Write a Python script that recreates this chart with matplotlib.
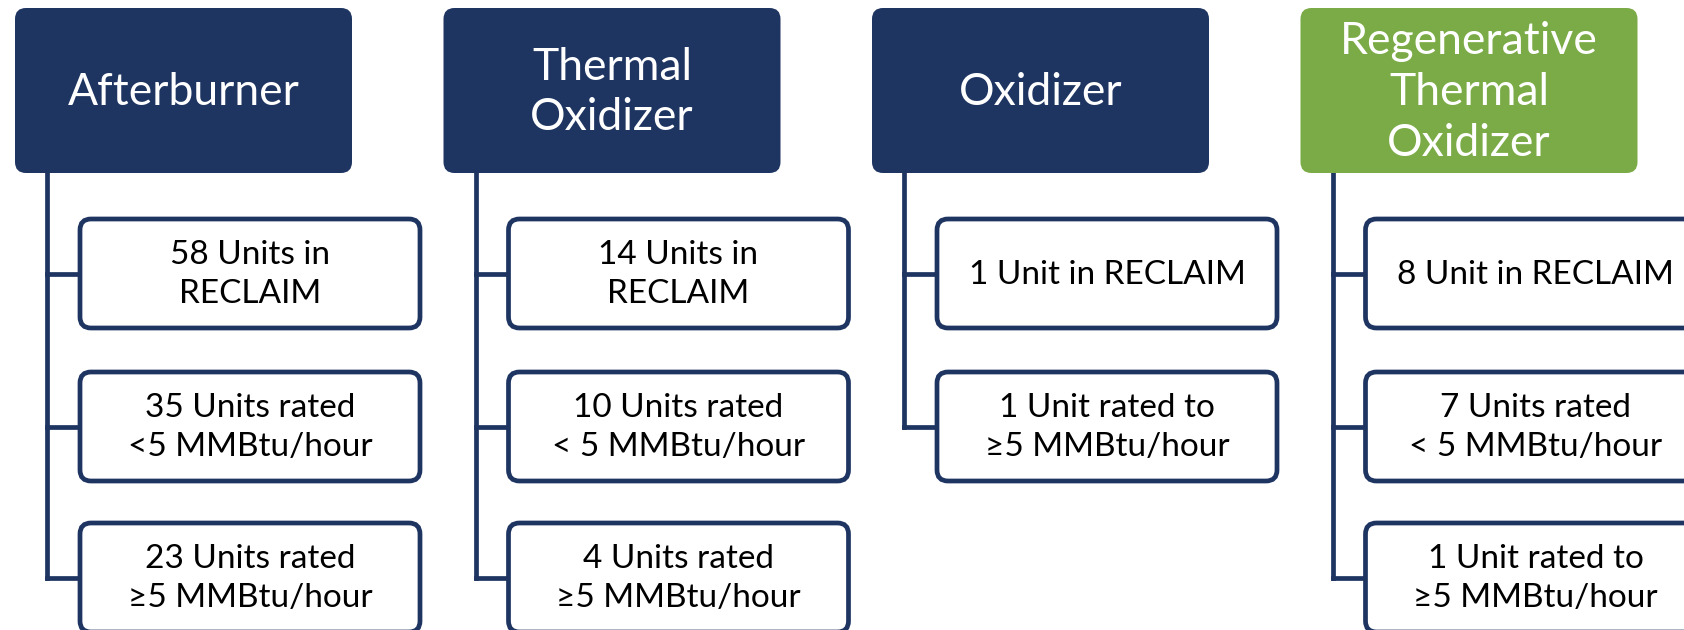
import matplotlib
matplotlib.use("Agg")
import matplotlib.pyplot as plt
from matplotlib.patches import FancyBboxPatch

plt.rcParams['font.family'] = ['Lato', 'DejaVu Sans']

# data
parents = ["Afterburner", "Thermal\nOxidizer", "Oxidizer", "Regenerative\nThermal\nOxidizer"]
parent_colors = ["#1E3461", "#1E3461", "#1E3461", "#7BAB46"]
children = [
    ["58 Units in\nRECLAIM", "35 Units rated\n<5 MMBtu/hour", "23 Units rated\n\u22655 MMBtu/hour"],
    ["14 Units in\nRECLAIM", "10 Units rated\n< 5 MMBtu/hour", "4 Units rated\n\u22655 MMBtu/hour"],
    ["1 Unit in RECLAIM", "1 Unit rated to\n\u22655 MMBtu/hour"],
    ["8 Unit in RECLAIM", "7 Units rated\n< 5 MMBtu/hour", "1 Unit rated to\n\u22655 MMBtu/hour"],
]

navy = "#1E3461"
W, H = 1684, 630
fig = plt.figure(figsize=(W / 100, H / 100), dpi=100)
ax = fig.add_axes([0, 0, 1, 1])
ax.set_xlim(0, W)
ax.set_ylim(H, 0)
ax.axis("off")

col_step = 428.5
par_x, par_y, par_w, par_h = 15, 8, 337, 165
ch_dx, ch_w, ch_h = 65, 340, 109
ch_tops = [219, 372, 523]
line_dx = 32

for i, name in enumerate(parents):
    x0 = par_x + i * col_step
    box = FancyBboxPatch((x0, par_y), par_w, par_h,
                         boxstyle="round,pad=0,rounding_size=11",
                         facecolor=parent_colors[i], edgecolor="none", zorder=2)
    ax.add_patch(box)
    ax.text(x0 + par_w / 2, par_y + par_h / 2 + 2, name, color="white",
            fontsize=32, ha="center", va="center", linespacing=1.3, zorder=3)

    vx = x0 + line_dx
    kids = children[i]
    ys = []
    for j, label in enumerate(kids):
        cx0 = x0 + ch_dx
        cy0 = ch_tops[j]
        cy = cy0 + ch_h / 2
        ys.append(cy)
        cbox = FancyBboxPatch((cx0, cy0), ch_w, ch_h,
                              boxstyle="round,pad=0,rounding_size=11",
                              facecolor="white", edgecolor=navy, linewidth=3.4, zorder=2)
        ax.add_patch(cbox)
        ax.plot([vx, cx0], [cy, cy], color=navy, lw=3.4, zorder=1,
                solid_capstyle="projecting")
        ax.text(cx0 + ch_w / 2, cy + 1, label, color="black", fontsize=24,
                ha="center", va="center", linespacing=1.35, zorder=3)
    ax.plot([vx, vx], [par_y + par_h, ys[-1]], color=navy, lw=3.4, zorder=1,
            solid_capstyle="projecting")

fig.savefig("out.png", dpi=100)
